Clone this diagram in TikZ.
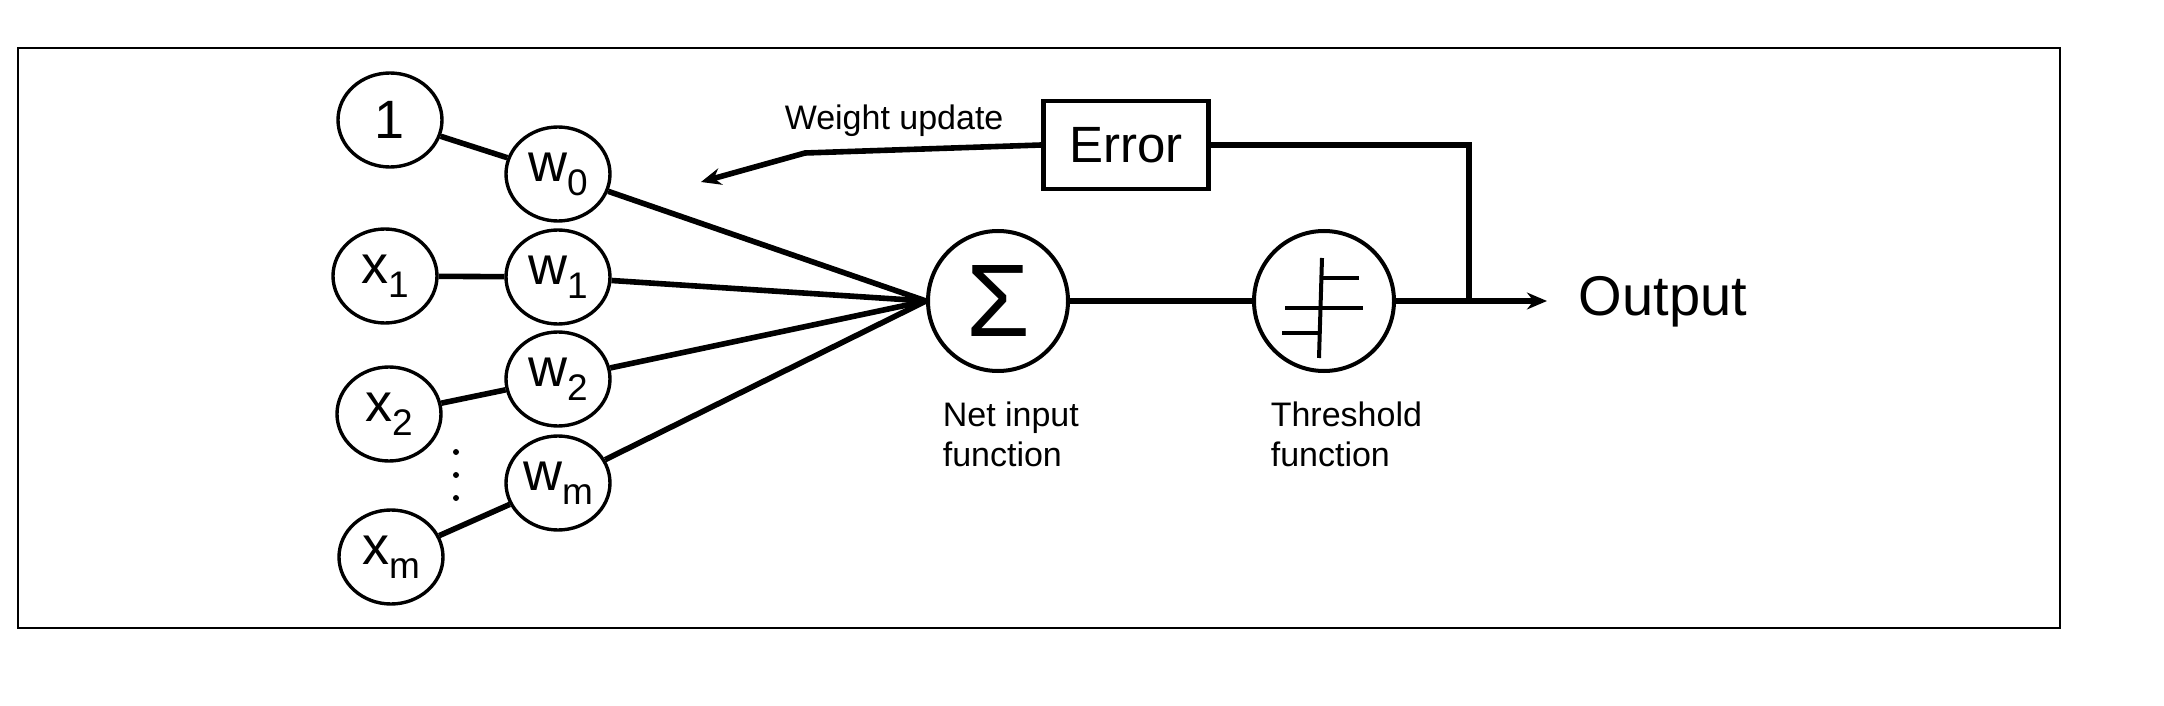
\documentclass[tikz,border=0pt]{standalone}
\usepackage{fontspec}
\setmainfont{Liberation Sans}
\usetikzlibrary{shapes.geometric,arrows.meta}
\newcommand{\wlab}[2]{{\fontsize{13.5}{14}\selectfont #1\raisebox{-3.5pt}{\fontsize{9.25}{10}\selectfont #2}}}
\begin{document}
\begin{tikzpicture}[x=0.25pt,y=-0.25pt,
  inp/.style={draw, ellipse, line width=0.85pt, minimum width=26pt, minimum height=23.5pt, inner sep=0pt},
  bigc/.style={draw, circle, line width=1pt, minimum size=35pt, inner sep=0pt},
  errbox/.style={draw, rectangle, line width=1.1pt, minimum width=41.25pt, minimum height=22pt, inner sep=0pt, font=\fontsize{12.75}{14}\selectfont},
  conn/.style={line width=1.4pt},
  sym/.style={line width=1pt},
  lbl/.style={font=\fontsize{8.5}{10}\selectfont, inner sep=0pt, align=left},
  tip/.style={-{Stealth[length=5pt,width=4.2pt]}}
]
\useasboundingbox (0,0) rectangle (2164,706);
\draw[line width=0.7pt] (18,48) rectangle (2060,628);

% input / weight nodes
\node[inp] (one) at (390,120) {\fontsize{13.5}{14}\selectfont 1};
\node[inp] (w0) at (558,174) {\wlab{w}{0}};
\node[inp] (x1) at (385,276) {\wlab{x}{1}};
\node[inp] (w1) at (558,277) {\wlab{w}{1}};
\node[inp] (x2) at (389,414) {\wlab{x}{2}};
\node[inp] (w2) at (558,379) {\wlab{w}{2}};
\node[inp] (wm) at (558,483) {\wlab{w}{m}};
\node[inp] (xm) at (391,557) {\wlab{x}{m}};

\fill (456,452) circle (3);
\fill (456,475) circle (3);
\fill (456,498) circle (3);

% summation and threshold
\node[bigc] (sum) at (998,301) {\fontsize{25.8}{26}\selectfont Σ};
\node[bigc] (th) at (1324,301) {};
\draw[sym] ([shift={(-2,-43)}]th.center) -- ([shift={(-5,57)}]th.center);
\draw[sym] ([shift={(-2.6,-23)}]th.center) -- ([shift={(35,-23)}]th.center);
\draw[sym] ([shift={(-39,7)}]th.center) -- ([shift={(39,7)}]th.center);
\draw[sym] ([shift={(-42,32)}]th.center) -- ([shift={(-4,32)}]th.center);

\node[errbox] (err) at (1126,145) {Error};

% labels
\node[lbl, anchor=north west] (netlbl) at (942,401) {Net input\\function};
\node[lbl, anchor=north west] (thlbl) at (1270,401) {Threshold\\function};
\node[lbl, anchor=base west] (wlbl) at (784,130) {Weight update};
\node[font=\fontsize{14}{16}\selectfont, inner sep=0pt, anchor=base west] (out) at (1578,316) {Output};

% coordinates
\coordinate (wbend) at (805,153);
\coordinate (wtip) at (701,182);
\coordinate (jn) at (1469,301);
\coordinate (otip) at (1547,301);

% connectors
\draw[conn] (one) -- (w0);
\draw[conn] (x1) -- (w1);
\draw[conn] (x2) -- (w2);
\draw[conn] (xm) -- (wm);
\draw[conn] (w0) -- (sum.west);
\draw[conn] (w1) -- (sum.west);
\draw[conn] (w2) -- (sum.west);
\draw[conn] (wm) -- (sum.west);
\draw[conn] (sum) -- (th);
\draw[conn, tip] (th) -- (otip);
\draw[conn] (err.east) -| (jn);
\draw[conn, tip] (err.west) -- (wbend) -- (wtip);
\end{tikzpicture}
\end{document}
